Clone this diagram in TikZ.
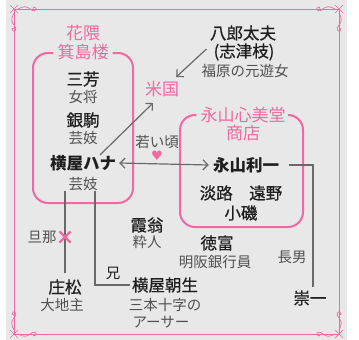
\documentclass[tikz,border=0pt]{standalone}
\usepackage{fontspec}
\setmainfont{Noto Sans CJK JP}
\newfontfamily\medjp{Noto Sans CJK JP}[FakeBold=0.7]
\newfontfamily\dejavu{DejaVu Sans}
\usetikzlibrary{arrows.meta,shapes.misc}
\definecolor{pk}{RGB}{240,105,160}
\definecolor{bg}{RGB}{232,232,232}
\definecolor{nm}{RGB}{30,30,30}
\definecolor{subc}{RGB}{80,80,80}
\definecolor{lnc}{RGB}{105,105,105}
\tikzset{
  pname/.style={font=\medjp\fontsize{16.5}{18}\selectfont, text=nm, inner sep=0pt},
  bname/.style={font=\fontsize{16.5}{18}\selectfont\bfseries, text=nm, inner sep=0pt},
  sublab/.style={font=\fontsize{14.5}{16}\selectfont, text=subc, inner sep=0pt},
  ttl/.style={font=\fontsize{17}{18}\selectfont, text=pk, inner sep=0pt},
  boxln/.style={pk, line width=2pt, rounded corners=15pt},
  conn/.style={lnc, line width=1.2pt},
  arr/.style={conn, -{Straight Barb[length=5pt,width=10pt]}},
  darr/.style={conn, {Straight Barb[length=5pt,width=10pt]}-{Straight Barb[length=5pt,width=10pt]}},
  frm/.style={pk, line width=0.7pt},
}
\begin{document}
\begin{tikzpicture}[x=1pt,y=-1pt]
\useasboundingbox (0,0) rectangle (359,340);
\fill[bg] (6,0) rectangle (347,340);
% frame
\draw[frm] (14,9) rectangle (339,334);
% corner flourishes
\foreach \cx/\cy/\sx/\sy in {14/9/1/1, 339/334/-1/-1, 339/9/-1/1, 14/334/1/-1}{
  \begin{scope}[shift={(\cx,\cy)}, xscale=\sx, yscale=\sy]
    \draw[frm] (-4,-4) -- (4,4) (4,-4) -- (-4,4);
    \draw[frm] (4,0) .. controls (9,-3) and (13,-3) .. (16,0) .. controls (19,3) and (23,2) .. (22,-1) .. controls (21,-3) and (18,-2) .. (19,0);
    \draw[frm] (0,4) .. controls (-3,9) and (-3,13) .. (0,16) .. controls (3,19) and (2,23) .. (-1,22) .. controls (-3,21) and (-2,18) .. (0,19);
  \end{scope}
}
% titles
\node[ttl] (t1a) at (83,33) {花隈};
\node[ttl] (t1b) at (83,52) {箕島楼};
\node[ttl] (t2a) at (243,115) {永山心美堂};
\node[ttl] (t2b) at (243,133) {商店};
% boxes
\draw[boxln] ([xshift=-4pt]t1b.west |- 0,53) -- (33,53) -- (33,203) -- (133,203) -- (133,53) -- ([xshift=4pt]t1b.east |- 0,53);
\draw[boxln] ([xshift=-4pt]t2a.west |- 0,115) -- (180,115) -- (180,227) -- (303,227) -- (303,115) -- ([xshift=4pt]t2a.east |- 0,115);
% left box people
\node[pname] (sanpo) at (83,79) {三芳};
\node[sublab] (sanposub) at (83,97) {女将};
\node[pname] (ginkoma) at (83,120) {銀駒};
\node[sublab] (ginkomasub) at (83,138) {芸妓};
\node[bname] (hana) at (83,163) {横屋ハナ};
\node[sublab] (hanasub) at (83,184) {芸妓};
% top
\node[pname] (hachiro) at (243,33) {八郎太夫};
\node[pname] (shizue) at (244,52) {(志津枝)};
\node[sublab] (fukuhara) at (245,71) {福原の元遊女};
\node[ttl] (beikoku) at (162,89) {米国};
% middle
\node[sublab] (wakai) at (157,142) {若い頃};
\node[text=pk, font=\dejavu\fontsize{13}{14}\selectfont, inner sep=0pt] (heart) at (157,156) {♥};
\node[bname] (toshi) at (246,165) {永山利一};
\node[pname] (awaji) at (241,193) {淡路　遠野};
\node[pname] (koiso) at (241,213) {小磯};
\node[pname] (tokutomi) at (217,243) {徳富};
\node[sublab] (tokutomisub) at (215,262) {明阪銀行員};
\node[pname] (kasumi) at (147,225) {霞翁};
\node[sublab] (kasumisub) at (147,242) {粋人};
% bottom
\node[pname] (shomatsu) at (65,287) {庄松};
\node[sublab] (shomatsusub) at (62,305) {大地主};
\node[pname] (asao) at (165,285) {横屋朝生};
\node[sublab] (asaosub1) at (165,305) {三本十字の};
\node[sublab] (asaosub2) at (161,322) {アーサー};
\node[pname] (souichi) at (310,298) {崇一};
\node[sublab] (chonan) at (292,257) {長男};
\node[sublab] (danna) at (42,237) {旦那};
\node[sublab, text=nm] (ani) at (113,273) {兄};
% connectors
\draw[arr] ([xshift=17pt]hana.north) -- ([xshift=-9pt,yshift=-6pt]beikoku.south);
\draw[arr] ([xshift=-7pt,yshift=3pt]shizue.west) -- ([xshift=-3pt,yshift=4pt]beikoku.north east);
\draw[darr] ([xshift=3pt]hana.east) -- ([xshift=-4pt]toshi.west);
\draw[conn] (hanasub.south -| shomatsu.north) -- ([yshift=6pt]shomatsu.north);
\node[cross out, draw=pk, line width=2.2pt, minimum size=9pt, inner sep=0pt] (xmark) at (65,237) {};
\draw[conn] ([xshift=12pt]hanasub.south) |- ([xshift=-2pt]asao.west);
\draw[conn] ([xshift=10pt]toshi.east) -| ([xshift=3pt,yshift=3pt]souichi.north);
\end{tikzpicture}
\end{document}
